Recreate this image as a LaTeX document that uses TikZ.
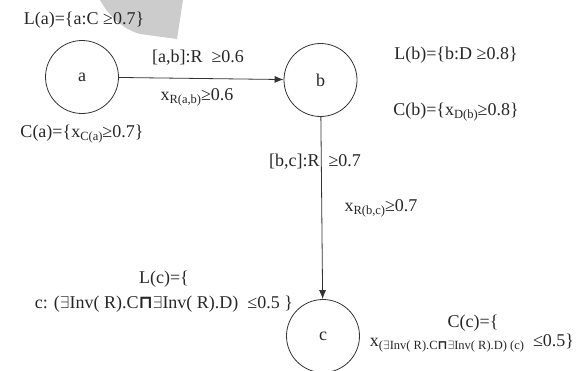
\documentclass[tikz,border=0pt]{standalone}
\usepackage{fontspec}
\setmainfont{Liberation Serif}
\newfontfamily\symfont{DejaVu Sans}
\usetikzlibrary{arrows.meta}
\newcommand{\myex}{\ensuremath{\exists}}
\newcommand{\mycap}{{\symfont\bfseries ⊓}}
\newcommand{\mysub}[1]{\raisebox{-0.35ex}{\fontsize{12.5}{13}\selectfont #1}}
\begin{document}
\begin{tikzpicture}[x=1pt,y=-1pt,
  every node/.style={font=\fontsize{18}{20}\selectfont, text=black!85},
  state/.style={draw=black!80, circle, line width=0.8pt, minimum size=73pt, inner sep=0pt},
  lbl/.style={inner sep=0pt, anchor=center},
  conn/.style={draw=black!80, line width=0.8pt, -{Latex[length=9pt,width=7pt]}}]
\useasboundingbox (0,0) rectangle (587,370);
% faint watermark
\fill[black!20] (100,0) .. controls (110,18) and (125,30) .. (140,34) -- (177,39) -- (183,0) -- cycle;
% states
\node[state] (a) at (82,77) {a};
\node[state] (b) at (320.5,80) {b};
\node[state] (c) at (323,336) {c};
% connectors
\draw[conn] (a) -- (b);
\draw[conn] (b) -- (c);
% labels
\node[lbl] (La) at (84,20) {L(a)=\{a:C ≥0.7\}};
\node[lbl] (Ca) at (82,134) {C(a)=\{x\mysub{C(a)}≥0.7\}};
\node[lbl] (ab1) at (198,58) {[a,b]:R \ ≥0.6};
\node[lbl] (ab2) at (197,97) {x\mysub{R(a,b)}≥0.6};
\node[lbl] (Lb) at (456,55) {L(b)=\{b:D ≥0.8\}};
\node[lbl] (Cb) at (456,112) {C(b)=\{x\mysub{D(b)}≥0.8\}};
\node[lbl] (bc1) at (315,162) {[b,c]:R \ ≥0.7};
\node[lbl] (bc2) at (381,208) {x\mysub{R(b,c)}≥0.7};
\node[lbl] (Lc1) at (164,279) {L(c)=\{};
\node[lbl] (Lc2) at (164,304) {c: (\myex Inv( R).C\mycap\myex Inv( R).D) \ ≤0.5 \}};
\node[lbl] (Cc1) at (473,323) {C(c)=\{};
\node[lbl] (Cc2) at (472,343) {x\mysub{(\myex Inv( R).C\mycap\myex Inv( R).D) (c)} \ ≤0.5\}};
\end{tikzpicture}
\end{document}
